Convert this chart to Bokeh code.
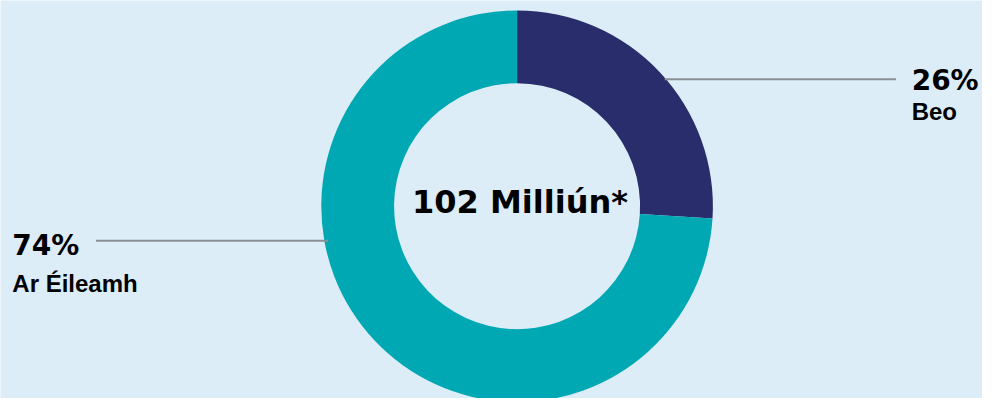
import math
from bokeh.plotting import figure
from bokeh.models import Range1d
from bokeh.core.properties import value
from bokeh.embed import file_html
from bokeh.resources import INLINE

# ---- data ----
categories = ["Beo", "Ar Éileamh"]
percent_values = [26, 74]
percent_labels = ["26%", "74%"]
center_label = "102 Milliún*"
slice_colors = ["#292d6b", "#00a8b4"]

# ---- layout (reference pixel coordinates, y measured from top) ----
W, H = 998, 414
BG = "#dcedf8"
cx, cy_top = 525, 214
R_out, R_in = 199, 125
FONT = "DejaVu Sans"
LABEL_FONT = "Liberation Sans"

p = figure(width=982, height=398, output_backend="svg", toolbar_location=None,
           x_range=Range1d(0, W), y_range=Range1d(0, H),
           min_border=0, background_fill_color=BG, border_fill_color=BG,
           outline_line_color=None)
p.axis.visible = False
p.grid.visible = False

def Y(y):
    return H - y

# slices: start at 12 o'clock, go clockwise
total = sum(percent_values)
start = math.pi / 2
spans = []
for v in percent_values:
    end = start - 2 * math.pi * v / total
    spans.append((end, start))
    start = end
for (a0, a1), col in zip(spans, slice_colors):
    p.annular_wedge(x=cx, y=Y(cy_top), inner_radius=R_in, outer_radius=R_out,
                    start_angle=a0, end_angle=a1, direction="anticlock",
                    fill_color=col, line_color=None)

# leader lines
leader = [((675, 910), 82), ((97, 333), 250)]
for (x0, x1), y in leader:
    p.line(x=[x0, x1], y=[Y(y), Y(y)], line_color="#8c8f95", line_width=2)

# labels (baseline positions)
label_pos = [(926, 83, 115), (12, 255, 294)]
for (lx, by1, by2), pct, cat in zip(label_pos, percent_labels, categories):
    p.text(x=[lx], y=[Y(by1)], text=[pct], text_font=value(FONT),
           text_font_style="bold", text_font_size="28px", text_color="#000000",
           text_baseline="alphabetic", text_align="left")
    p.text(x=[lx], y=[Y(by2)], text=[cat], text_font=value(LABEL_FONT),
           text_font_style="bold", text_font_size="24px", text_color="#000000",
           text_baseline="alphabetic", text_align="left")

p.text(x=[528], y=[Y(210)], text=[center_label], text_font=value(FONT),
       text_font_style="bold", text_font_size="32px", text_color="#000000",
       text_baseline="alphabetic", text_align="center")

open("out.html", "w").write(file_html(p, INLINE))
